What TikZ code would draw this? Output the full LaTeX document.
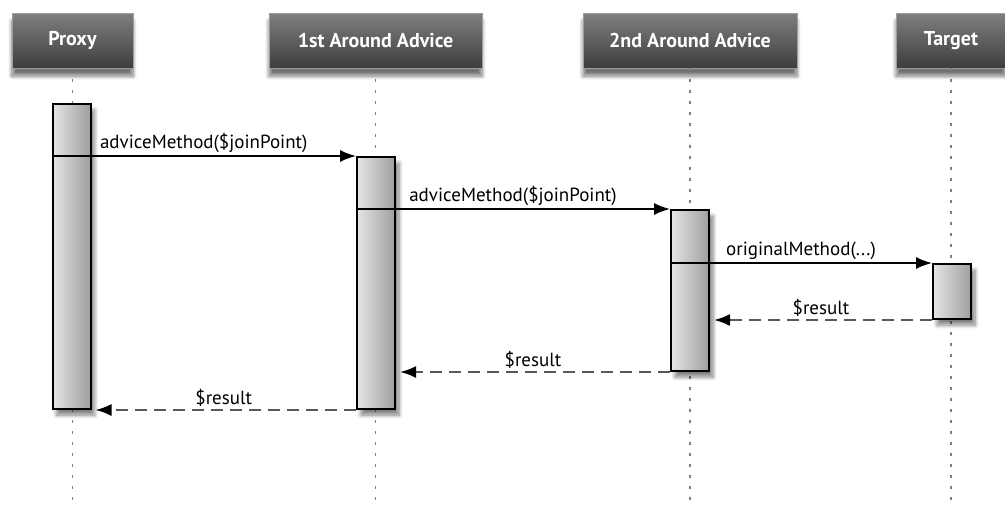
\documentclass[tikz,border=0pt]{standalone}
\usepackage{fontspec}
\setmainfont{PT Sans}
\usetikzlibrary{shapes,arrows.meta,shadows,shadows.blur}
\tikzstyle{kepala} = [rectangle, draw=black!38, top color=black!50, bottom color=black!76, text=white, font=\bfseries\fontsize{10}{12}\selectfont, minimum height=27.5pt, inner sep=0pt, blur shadow={shadow xshift=0pt, shadow yshift=-4pt, shadow blur steps=8, shadow opacity=55}]
\tikzstyle{aktif} = [rectangle, draw, line width=1pt, left color=black!10, middle color=black!2, right color=black!38, minimum width=19pt, inner sep=0pt, anchor=north, blur shadow={shadow xshift=2pt, shadow yshift=-3pt, shadow blur steps=8, shadow opacity=50}]
\tikzstyle{hidup} = [draw, black!50, line width=0.9pt, dash pattern=on 1.5pt off 4pt]
\tikzstyle{pesan} = [draw, line width=0.8pt, -{Latex[length=8pt,width=6pt]}]
\tikzstyle{balik} = [draw, black!65, line width=1pt, dash pattern=on 6pt off 3.5pt, shorten >=2pt, -{Latex[length=8pt,width=6pt,color=black]}]
\tikzstyle{teks} = [above, inner sep=1.5pt, font=\fontsize{9.5}{11}\selectfont, text=black]

\begin{document}
\begin{tikzpicture}[x=0.5pt, y=-0.5pt]
\useasboundingbox (0,0) rectangle (1005,505);

\node [kepala, minimum width=60.5pt] (proxy) at (72.5,40.5) {Proxy};
\node [kepala, minimum width=106.5pt] (advis1) at (375.5,40.5) {1st Around Advice};
\node [kepala, minimum width=107pt] (advis2) at (690,40.5) {2nd Around Advice};
\node [kepala, minimum width=55pt] (target) at (951,40.5) {Target};

\coordinate (proxybawah) at (72.5,505);
\coordinate (advis1bawah) at (375.5,505);
\coordinate (advis2bawah) at (690,505);
\coordinate (targetbawah) at (951,505);

\path[hidup] (proxy) -- (proxybawah);
\path[hidup] (advis1) -- (advis1bawah);
\path[hidup] (advis2) -- (advis2bawah);
\path[hidup] (target) -- (targetbawah);

\node [aktif, minimum height=152.5pt] (aktproxy) at (71.5,103) {};
\node [aktif, minimum height=126pt] (akt1) at (376,156) {};
\node [aktif, minimum height=80.5pt] (akt2) at (690,209) {};
\node [aktif, minimum height=27.5pt] (akttarget) at (952,263) {};

\path[pesan] (aktproxy.west |- akt1.north) -- node[teks]{adviceMethod(\$joinPoint)} (akt1.north west);
\path[pesan] (akt1.west |- akt2.north) -- node[teks]{adviceMethod(\$joinPoint)} (akt2.north west);
\path[pesan] (akt2.west |- akttarget.north) -- node[teks]{originalMethod(...)} (akttarget.north west);

\path[balik] (akttarget.south west) -- node[teks]{\$result} (akt2.east |- akttarget.south);
\path[balik] (akt2.south west) -- node[teks]{\$result} (akt1.east |- akt2.south);
\path[balik] (akt1.south west) -- node[teks]{\$result} (aktproxy.east |- akt1.south);
\end{tikzpicture}
\end{document}
